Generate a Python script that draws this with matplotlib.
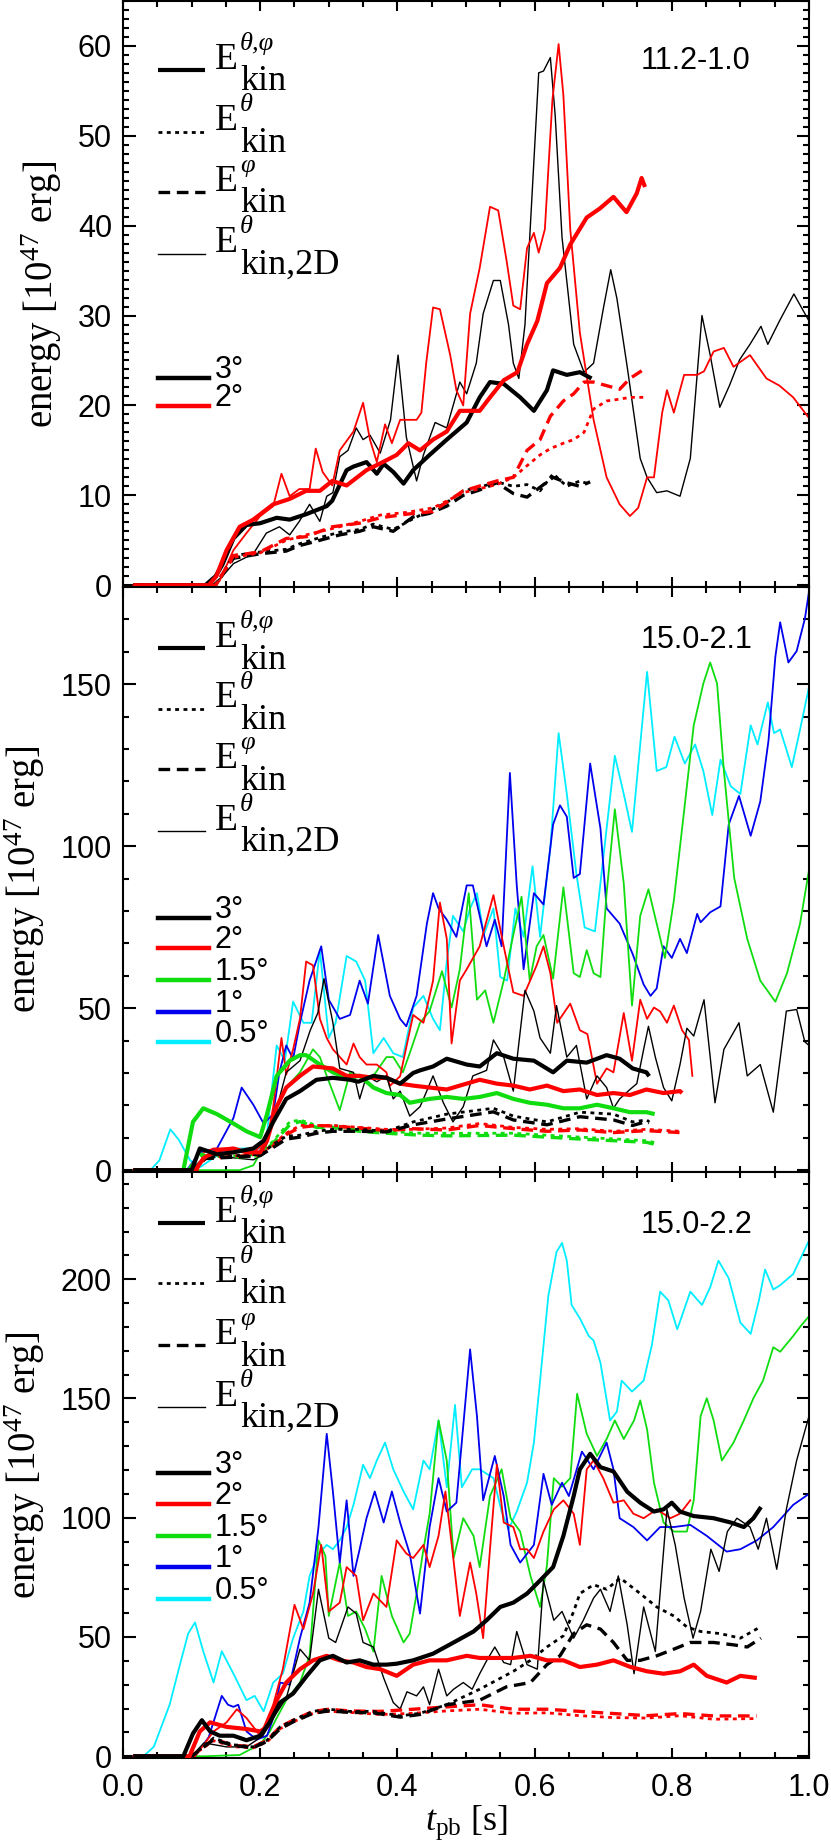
import matplotlib
matplotlib.use("Agg")
import matplotlib.pyplot as plt
from matplotlib.ticker import MultipleLocator, FormatStrFormatter

plt.rcParams['font.family'] = ['Liberation Sans', 'DejaVu Sans']
plt.rcParams['mathtext.fontset'] = 'custom'
plt.rcParams['mathtext.rm'] = 'Liberation Serif'
plt.rcParams['mathtext.it'] = 'Liberation Serif:italic'

# ---------------- data: (t_pb [s], energy [1e47 erg]) ----------------
# panel 1: 11.2-1.0
p1_tot_3 = [(0.015,0),(0.12,0),(0.135,1.0),(0.145,2.3),(0.161,5.2),(0.18,6.7),(0.2,6.9),(0.224,7.5),(0.243,7.3),(0.267,7.9),(0.297,8.8),(0.305,9.4),(0.326,12.8),(0.336,13.2),(0.355,13.7),(0.37,12.4),(0.38,13.5),(0.394,12.6),(0.409,11.3),(0.423,12.8),(0.447,14.5),(0.472,16.2),(0.501,18.1),(0.52,20.9),(0.535,22.6),(0.555,22.4),(0.579,20.9),(0.599,19.4),(0.618,21.7),(0.627,23.9),(0.647,23.4),(0.666,23.7),(0.683,23.0)]
p1_tot_2 = [(0.015,0),(0.125,0),(0.136,1.0),(0.151,3.9),(0.17,6.5),(0.19,7.3),(0.219,9.0),(0.243,9.6),(0.267,10.5),(0.287,10.5),(0.305,11.6),(0.326,11.1),(0.355,12.8),(0.384,13.9),(0.399,14.5),(0.416,15.8),(0.433,15.0),(0.452,16.2),(0.472,17.1),(0.491,19.4),(0.52,19.4),(0.535,20.9),(0.555,22.8),(0.575,23.7),(0.589,26.8),(0.604,29.4),(0.618,33.6),(0.637,35.3),(0.652,37.9),(0.676,40.9),(0.695,41.9),(0.715,43.2),(0.734,41.5),(0.749,43.6),(0.756,45.3),(0.761,44.3)]
p1_th_3 = [(0.015,0),(0.135,0),(0.161,3.3),(0.2,3.7),(0.238,4.0),(0.257,4.6),(0.287,5.3),(0.316,5.9),(0.345,6.2),(0.365,6.8),(0.394,6.2),(0.423,7.4),(0.447,8.3),(0.472,9.2),(0.496,10.5),(0.52,10.9),(0.545,11.5),(0.569,11.0),(0.589,11.2),(0.608,10.5),(0.627,12.4),(0.647,11.0),(0.666,11.6),(0.681,11.2)]
p1_ph_3 = [(0.015,0),(0.135,0),(0.161,3.0),(0.2,3.5),(0.238,3.8),(0.257,4.4),(0.287,5.0),(0.316,5.6),(0.345,6.0),(0.365,6.5),(0.394,6.0),(0.423,7.6),(0.447,8.0),(0.472,8.8),(0.496,10.0),(0.52,10.6),(0.545,11.4),(0.569,10.2),(0.589,9.8),(0.608,10.9),(0.627,12.0),(0.647,11.4),(0.666,11.0),(0.681,11.5)]
p1_th_2 = [(0.015,0),(0.135,0),(0.161,3.1),(0.2,3.6),(0.238,5.0),(0.267,5.6),(0.305,6.3),(0.345,7.1),(0.375,7.8),(0.413,8.1),(0.452,8.6),(0.496,10.3),(0.545,11.2),(0.569,12.0),(0.589,13.3),(0.608,14.5),(0.623,15.2),(0.642,15.8),(0.657,16.2),(0.672,17.0),(0.686,19.6),(0.705,20.5),(0.724,20.7),(0.739,20.9),(0.761,20.9)]
p1_ph_2 = [(0.015,0),(0.135,0),(0.161,3.3),(0.2,3.7),(0.238,5.2),(0.267,5.4),(0.305,6.5),(0.345,6.9),(0.375,7.5),(0.413,7.9),(0.452,8.2),(0.496,10.5),(0.545,11.6),(0.569,12.0),(0.589,15.0),(0.608,16.2),(0.623,18.8),(0.642,20.5),(0.657,21.3),(0.672,22.6),(0.686,22.6),(0.705,22.2),(0.724,21.8),(0.739,23.0),(0.761,24.1)]
p1_2d_3 = [(0.015,0),(0.13,0),(0.145,1.0),(0.161,2.4),(0.19,3.5),(0.209,5.8),(0.228,6.5),(0.243,5.6),(0.257,7.1),(0.272,9.0),(0.287,7.1),(0.297,9.9),(0.306,10.3),(0.316,14.3),(0.328,15.0),(0.34,17.5),(0.35,16.2),(0.36,16.7),(0.375,14.7),(0.39,18.4),(0.401,25.6),(0.413,16.5),(0.428,11.6),(0.438,14.5),(0.455,18.1),(0.472,17.5),(0.491,22.6),(0.501,21.3),(0.515,24.7),(0.525,30.2),(0.54,33.9),(0.55,33.9),(0.562,29.0),(0.569,24.7),(0.577,23.0),(0.586,29.0),(0.599,47.2),(0.606,57.0),(0.613,57.2),(0.623,58.7),(0.63,52.3),(0.64,38.7),(0.657,26.8),(0.672,23.7),(0.686,24.7),(0.701,31.1),(0.711,35.1),(0.72,31.9),(0.735,24.3),(0.754,14.1),(0.764,12.0),(0.778,10.3),(0.793,10.5),(0.812,9.9),(0.827,14.1),(0.844,30.0),(0.856,25.6),(0.87,19.8),(0.884,22.2),(0.899,25.1),(0.914,26.8),(0.93,28.8),(0.94,26.8),(0.957,29.4),(0.978,32.4),(1.0,29.4)]
p1_2d_2 = [(0.015,0),(0.135,0),(0.141,0.5),(0.161,3.9),(0.18,5.8),(0.2,7.7),(0.219,8.8),(0.231,12.4),(0.243,9.9),(0.257,10.7),(0.272,10.7),(0.281,15.2),(0.291,12.6),(0.305,11.1),(0.316,15.0),(0.336,17.1),(0.35,20.3),(0.36,16.2),(0.37,13.7),(0.382,17.9),(0.392,15.8),(0.404,18.4),(0.411,18.4),(0.428,18.4),(0.435,19.2),(0.442,24.7),(0.452,30.9),(0.462,30.7),(0.477,25.6),(0.486,21.7),(0.496,20.0),(0.506,30.2),(0.52,35.3),(0.535,42.1),(0.547,41.7),(0.559,36.2),(0.569,31.1),(0.579,30.7),(0.589,37.5),(0.599,39.2),(0.606,37.0),(0.615,39.6),(0.626,54.0),(0.635,60.2),(0.642,54.5),(0.652,39.6),(0.666,28.1),(0.686,18.4),(0.705,12.0),(0.724,9.0),(0.739,7.7),(0.751,8.6),(0.764,12.0),(0.774,12.0),(0.786,19.2),(0.793,21.7),(0.803,19.2),(0.818,23.4),(0.837,23.4),(0.847,23.8),(0.861,26.0),(0.876,26.4),(0.89,24.3),(0.914,25.6),(0.938,23.0),(0.957,22.2),(0.977,20.9),(1.0,18.6)]

# panel 2: 15.0-2.1
p2_tot_3 = [(0.015,0),(0.1,0),(0.112,6.7),(0.137,4.9),(0.161,5.5),(0.19,6.7),(0.205,9.1),(0.219,14.9),(0.238,22.0),(0.258,24.4),(0.282,27.9),(0.306,28.5),(0.331,27.9),(0.343,27.3),(0.365,29.1),(0.384,28.5),(0.404,26.7),(0.423,30.0),(0.433,30.8),(0.452,32.0),(0.472,34.4),(0.501,32.6),(0.52,32.0),(0.545,36.1),(0.569,34.4),(0.599,33.8),(0.627,30.2),(0.647,33.8),(0.676,33.2),(0.705,35.5),(0.724,34.4),(0.743,31.4),(0.763,30.2),(0.767,29.0)]
p2_tot_2 = [(0.015,0),(0.105,0),(0.118,3.8),(0.137,6.1),(0.161,6.7),(0.18,5.5),(0.2,5.5),(0.21,9.1),(0.224,19.6),(0.238,25.5),(0.258,29.1),(0.277,32.0),(0.306,31.4),(0.326,29.1),(0.345,29.1),(0.365,28.5),(0.384,28.5),(0.404,26.7),(0.423,26.1),(0.447,25.5),(0.472,24.9),(0.491,26.1),(0.52,27.9),(0.545,26.7),(0.569,26.1),(0.593,24.9),(0.618,26.1),(0.642,24.4),(0.666,24.9),(0.691,23.2),(0.715,23.8),(0.739,23.2),(0.763,24.9),(0.788,23.8),(0.812,24.4),(0.815,23.8)]
p2_tot_15 = [(0.015,0),(0.088,0),(0.102,14.9),(0.117,19.1),(0.137,17.3),(0.161,14.4),(0.18,12.0),(0.2,10.2),(0.21,17.3),(0.224,29.1),(0.243,33.8),(0.258,35.5),(0.267,35.5),(0.287,32.6),(0.306,30.2),(0.326,28.5),(0.345,29.1),(0.365,25.5),(0.384,23.8),(0.404,23.2),(0.418,20.8),(0.447,22.0),(0.472,22.6),(0.496,22.0),(0.52,22.6),(0.545,23.8),(0.569,22.0),(0.593,20.8),(0.618,20.2),(0.642,19.1),(0.666,19.1),(0.691,20.2),(0.715,19.1),(0.739,17.9),(0.763,17.9),(0.775,17.3)]
p2_th_3 = [(0.015,0),(0.1,0),(0.12,4.0),(0.161,4.4),(0.2,4.9),(0.219,7.9),(0.238,10.5),(0.258,10.8),(0.282,12.0),(0.306,12.6),(0.345,12.6),(0.384,12.0),(0.423,14.9),(0.472,17.3),(0.54,19.1),(0.569,16.7),(0.618,14.9),(0.666,17.9),(0.715,17.3),(0.743,14.9),(0.763,15.5),(0.767,15.0)]
p2_ph_3 = [(0.015,0),(0.1,0),(0.12,3.6),(0.161,4.0),(0.2,4.5),(0.219,7.0),(0.238,9.6),(0.258,10.2),(0.282,11.4),(0.306,12.0),(0.345,12.0),(0.384,11.8),(0.423,14.0),(0.472,15.8),(0.54,18.0),(0.569,15.5),(0.618,14.0),(0.666,16.5),(0.715,15.5),(0.743,13.8),(0.763,15.0),(0.767,14.6)]
p2_th_2 = [(0.015,0),(0.105,0),(0.12,4.0),(0.161,4.4),(0.2,4.9),(0.219,8.0),(0.238,11.4),(0.258,13.8),(0.282,13.8),(0.306,13.8),(0.345,13.2),(0.384,12.6),(0.423,12.6),(0.472,13.0),(0.52,14.4),(0.569,13.2),(0.618,12.6),(0.666,12.8),(0.715,12.0),(0.763,12.6),(0.812,12.0),(0.815,12.0)]
p2_ph_2 = [(0.015,0),(0.105,0),(0.12,3.6),(0.161,4.2),(0.2,4.7),(0.219,7.5),(0.238,11.0),(0.258,13.2),(0.282,13.8),(0.306,13.6),(0.345,13.0),(0.384,12.2),(0.423,12.8),(0.472,12.4),(0.52,13.8),(0.569,12.8),(0.618,12.0),(0.666,12.4),(0.715,11.6),(0.763,12.2),(0.812,11.6),(0.815,11.8)]
p2_th_15 = [(0.015,0),(0.095,0),(0.112,5.0),(0.161,4.4),(0.2,4.9),(0.219,9.0),(0.243,14.9),(0.258,15.5),(0.282,13.8),(0.306,13.8),(0.345,12.6),(0.384,12.0),(0.433,11.4),(0.472,11.4),(0.569,11.4),(0.666,10.2),(0.763,9.1),(0.775,8.5)]
p2_ph_15 = [(0.015,0),(0.095,0),(0.112,4.6),(0.161,4.0),(0.2,4.5),(0.219,8.4),(0.243,14.0),(0.258,15.0),(0.282,13.2),(0.306,13.2),(0.345,12.0),(0.384,11.4),(0.433,10.8),(0.472,10.6),(0.569,10.8),(0.666,9.6),(0.763,8.6),(0.775,8.0)]
p2_2d_3 = [(0.015,0),(0.104,0),(0.118,3.2),(0.137,4.9),(0.161,3.8),(0.19,3.2),(0.205,4.9),(0.219,14.9),(0.238,30.2),(0.258,33.8),(0.273,43.2),(0.284,48.5),(0.293,59.1),(0.306,45.5),(0.316,31.4),(0.336,30.2),(0.345,22.0),(0.355,29.1),(0.37,27.3),(0.384,29.1),(0.394,22.0),(0.404,24.4),(0.418,16.7),(0.433,19.6),(0.438,22.0),(0.452,29.1),(0.467,20.8),(0.481,14.9),(0.496,19.6),(0.51,29.1),(0.53,30.8),(0.54,40.2),(0.555,34.9),(0.569,24.4),(0.586,55.5),(0.599,49.1),(0.608,40.8),(0.623,36.1),(0.632,50.8),(0.647,34.9),(0.661,38.5),(0.676,22.0),(0.691,29.1),(0.705,25.5),(0.715,19.1),(0.724,22.0),(0.739,24.9),(0.749,26.7),(0.759,37.3),(0.766,44.4),(0.776,34.9),(0.788,25.5),(0.8,21.4),(0.812,32.6),(0.822,43.8),(0.832,41.4),(0.847,52.6),(0.856,34.9),(0.863,20.8),(0.876,37.3),(0.898,45.5),(0.91,29.1),(0.929,32.6),(0.948,17.9),(0.967,49.1),(0.982,49.6),(0.994,39.6),(1.0,38.5)]
p2_2d_2 = [(0.015,0),(0.109,0),(0.118,5.5),(0.132,6.7),(0.161,6.7),(0.19,5.5),(0.21,9.1),(0.219,19.6),(0.231,40.8),(0.238,29.5),(0.248,37.3),(0.258,46.7),(0.267,64.4),(0.277,63.2),(0.287,46.7),(0.297,40.8),(0.306,37.3),(0.326,32.6),(0.336,39.1),(0.345,34.9),(0.355,32.6),(0.37,32.6),(0.384,30.2),(0.389,26.0),(0.404,29.0),(0.423,47.9),(0.438,45.5),(0.452,58.5),(0.462,82.6),(0.472,71.4),(0.479,39.1),(0.491,58.5),(0.501,62.0),(0.52,69.1),(0.54,84.9),(0.555,69.1),(0.569,54.9),(0.584,53.8),(0.603,63.2),(0.613,69.1),(0.623,60.8),(0.633,45.5),(0.652,51.4),(0.666,43.2),(0.677,42.0),(0.691,26.7),(0.705,31.4),(0.715,30.2),(0.73,48.5),(0.742,33.8),(0.754,52.6),(0.764,46.7),(0.774,50.2),(0.783,49.0),(0.793,45.5),(0.803,50.8),(0.815,43.2),(0.825,40.2),(0.83,29.1)]
p2_2d_15 = [(0.015,0),(0.17,0),(0.19,1.5),(0.21,9.1),(0.224,19.6),(0.238,25.5),(0.258,30.2),(0.277,37.3),(0.287,34.9),(0.297,29.1),(0.316,18.5),(0.331,30.2),(0.345,29.1),(0.365,29.1),(0.384,34.9),(0.394,34.9),(0.408,30.2),(0.418,36.1),(0.433,45.5),(0.447,49.1),(0.465,61.4),(0.479,50.2),(0.491,62.0),(0.504,85.5),(0.516,52.6),(0.528,55.5),(0.54,45.5),(0.555,58.5),(0.569,72.6),(0.581,84.4),(0.593,58.5),(0.603,69.1),(0.613,72.6),(0.627,59.1),(0.642,87.3),(0.657,60.8),(0.666,59.6),(0.676,67.9),(0.686,60.8),(0.696,59.6),(0.705,85.5),(0.717,111.4),(0.73,88.5),(0.742,50.8),(0.754,78.5),(0.766,86.7),(0.778,76.1),(0.79,65.5),(0.803,83.2),(0.817,109.1),(0.832,137.3),(0.846,150.2),(0.856,156.7),(0.866,150.2),(0.876,123.2),(0.891,90.2),(0.91,71.4),(0.929,58.5),(0.951,52.0),(0.968,60.8),(0.987,76.1),(1.0,92.6)]
p2_2d_1 = [(0.015,0),(0.093,0),(0.112,5.5),(0.137,6.7),(0.161,16.1),(0.173,25.5),(0.19,20.2),(0.205,14.4),(0.219,17.3),(0.228,30.2),(0.238,38.5),(0.248,34.4),(0.258,45.5),(0.272,58.5),(0.289,69.1),(0.3,52.6),(0.316,46.7),(0.331,47.9),(0.345,58.5),(0.357,51.4),(0.372,72.6),(0.389,53.8),(0.404,46.7),(0.413,44.4),(0.428,53.8),(0.443,76.1),(0.452,85.5),(0.46,80.8),(0.472,77.3),(0.486,72.0),(0.501,87.9),(0.51,87.9),(0.52,78.5),(0.53,69.1),(0.542,77.3),(0.552,69.1),(0.564,122.6),(0.574,87.9),(0.584,62.0),(0.599,85.5),(0.613,82.0),(0.627,106.7),(0.637,112.6),(0.647,109.1),(0.657,90.2),(0.666,91.4),(0.681,125.5),(0.696,105.5),(0.705,80.8),(0.724,76.1),(0.743,66.7),(0.759,57.3),(0.769,53.8),(0.778,56.1),(0.788,69.1),(0.8,65.5),(0.812,71.4),(0.822,67.0),(0.837,79.1),(0.842,76.5),(0.856,79.6),(0.871,81.4),(0.883,106.7),(0.898,115.5),(0.915,103.2),(0.929,113.8),(0.941,132.6),(0.951,158.5),(0.958,169.1),(0.97,156.7),(0.982,160.2),(0.994,170.2),(1.0,178.5)]
p2_2d_05 = [(0.015,0),(0.04,0),(0.053,3.0),(0.069,12.6),(0.081,9.5),(0.098,3.0),(0.113,1.0),(0.137,4.5),(0.161,6.7),(0.2,6.7),(0.21,11.4),(0.224,38.5),(0.236,33.8),(0.248,52.0),(0.263,45.5),(0.275,45.5),(0.287,67.9),(0.3,40.8),(0.31,45.5),(0.326,66.1),(0.34,64.4),(0.353,58.5),(0.365,36.1),(0.38,40.8),(0.394,36.1),(0.408,34.9),(0.423,50.2),(0.438,53.8),(0.452,46.7),(0.462,43.2),(0.472,64.4),(0.481,78.5),(0.496,73.7),(0.506,80.8),(0.516,85.5),(0.526,72.6),(0.54,80.8),(0.55,59.6),(0.56,58.5),(0.572,80.8),(0.584,72.0),(0.597,93.8),(0.608,72.0),(0.623,99.6),(0.635,134.9),(0.647,116.1),(0.661,91.4),(0.673,74.9),(0.688,73.7),(0.7,96.1),(0.717,127.9),(0.73,116.1),(0.742,104.4),(0.754,131.4),(0.764,153.8),(0.778,123.2),(0.792,124.4),(0.804,133.8),(0.819,125.5),(0.834,131.4),(0.846,123.2),(0.859,109.6),(0.871,126.7),(0.886,118.5),(0.9,116.1),(0.915,137.3),(0.925,131.4),(0.94,144.4),(0.949,134.9),(0.958,136.0),(0.975,124.4),(0.987,136.0),(1.0,149.1)]

# panel 3: 15.0-2.2
p3_tot_3 = [(0.015,0),(0.088,0),(0.102,9.5),(0.115,15.1),(0.127,10.4),(0.141,8.6),(0.161,8.6),(0.18,6.7),(0.2,8.6),(0.214,14.2),(0.229,22.5),(0.248,26.3),(0.268,33.7),(0.287,40.2),(0.306,42.1),(0.326,39.3),(0.345,40.2),(0.365,38.4),(0.384,38.4),(0.399,38.8),(0.423,40.2),(0.452,43.0),(0.482,47.7),(0.511,52.3),(0.53,57.0),(0.55,62.6),(0.569,64.4),(0.589,68.2),(0.608,73.7),(0.627,79.3),(0.642,92.4),(0.657,109.1),(0.666,120.3),(0.681,126.8),(0.696,121.2),(0.715,119.4),(0.735,110.9),(0.754,106.3),(0.774,102.6),(0.788,103.5),(0.8,106.3),(0.812,102.6),(0.832,100.7),(0.861,99.8),(0.886,98.0),(0.905,96.1),(0.919,99.8),(0.93,104.5)]
p3_tot_2 = [(0.015,0),(0.097,0),(0.112,10.4),(0.127,14.2),(0.151,12.3),(0.18,11.4),(0.2,10.4),(0.21,12.3),(0.224,23.5),(0.238,30.9),(0.258,36.5),(0.277,40.2),(0.297,42.1),(0.316,40.2),(0.336,39.3),(0.355,37.4),(0.375,36.5),(0.399,33.7),(0.423,38.4),(0.447,40.2),(0.472,40.2),(0.501,42.1),(0.52,41.2),(0.545,41.2),(0.569,41.2),(0.594,42.1),(0.618,40.2),(0.642,40.2),(0.666,37.4),(0.691,38.4),(0.715,40.2),(0.74,37.4),(0.764,35.6),(0.788,34.6),(0.812,35.6),(0.832,38.4),(0.851,33.7),(0.88,30.9),(0.9,33.7),(0.924,32.8)]
p3_th_3 = [(0.015,0),(0.1,0),(0.132,7.6),(0.161,4.8),(0.19,3.9),(0.21,6.7),(0.229,12.3),(0.248,15.1),(0.277,18.8),(0.3,19.7),(0.33,18.8),(0.365,18.8),(0.404,16.9),(0.433,18.0),(0.472,21.6),(0.52,28.1),(0.569,35.6),(0.594,40.2),(0.618,45.8),(0.642,50.5),(0.657,60.7),(0.666,68.2),(0.686,71.9),(0.705,70.0),(0.725,74.7),(0.754,68.2),(0.778,62.6),(0.803,58.8),(0.822,54.2),(0.842,52.3),(0.871,51.4),(0.9,49.5),(0.929,54.2)]
p3_ph_3 = [(0.015,0),(0.1,0),(0.132,7.0),(0.161,4.4),(0.19,3.6),(0.21,6.2),(0.229,11.5),(0.248,14.4),(0.277,18.0),(0.3,19.0),(0.33,18.4),(0.365,18.2),(0.404,16.4),(0.433,17.5),(0.472,21.6),(0.52,23.5),(0.559,29.1),(0.594,30.9),(0.618,38.4),(0.637,42.1),(0.657,51.4),(0.676,55.1),(0.696,53.3),(0.715,47.7),(0.735,40.2),(0.754,40.2),(0.778,42.1),(0.803,44.9),(0.827,47.7),(0.861,47.7),(0.89,46.7),(0.91,45.8),(0.93,49.5)]
p3_th_2 = [(0.015,0),(0.1,0),(0.132,6.5),(0.161,4.0),(0.19,3.5),(0.21,6.0),(0.229,11.5),(0.248,14.4),(0.277,18.0),(0.3,18.8),(0.33,18.4),(0.375,17.5),(0.423,18.0),(0.472,19.0),(0.52,19.7),(0.569,18.0),(0.618,18.2),(0.666,17.0),(0.715,16.2),(0.764,16.0),(0.812,17.0),(0.861,15.5),(0.924,15.8)]
p3_ph_2 = [(0.015,0),(0.1,0),(0.132,7.2),(0.161,4.6),(0.19,4.0),(0.21,6.6),(0.229,12.3),(0.248,15.1),(0.277,18.8),(0.3,19.7),(0.33,19.0),(0.375,18.8),(0.423,19.7),(0.472,20.7),(0.52,21.6),(0.569,19.7),(0.618,19.7),(0.666,18.8),(0.715,17.9),(0.764,17.0),(0.812,17.9),(0.861,16.9),(0.924,16.9)]
p3_2d_3 = [(0.015,0),(0.1,0),(0.118,5.6),(0.151,3.9),(0.18,3.9),(0.204,8.6),(0.219,16.0),(0.238,24.4),(0.258,44.9),(0.272,40.2),(0.285,70.0),(0.3,49.5),(0.31,47.7),(0.328,62.6),(0.34,59.8),(0.35,47.7),(0.365,45.8),(0.38,32.8),(0.394,22.5),(0.404,19.8),(0.414,27.0),(0.428,25.3),(0.438,29.1),(0.447,21.6),(0.46,36.5),(0.472,25.3),(0.482,28.1),(0.496,30.9),(0.509,28.1),(0.52,34.6),(0.53,40.0),(0.542,45.8),(0.555,39.3),(0.565,38.4),(0.574,52.3),(0.589,38.4),(0.604,36.5),(0.613,73.7),(0.628,57.0),(0.64,60.7),(0.657,49.5),(0.671,57.0),(0.686,66.3),(0.696,70.0),(0.71,60.7),(0.722,75.6),(0.735,55.1),(0.745,34.6),(0.759,62.6),(0.776,43.9),(0.793,103.5),(0.805,88.6),(0.818,66.3),(0.831,49.5),(0.842,60.7),(0.857,86.8),(0.869,77.5),(0.881,94.2),(0.895,99.8),(0.914,96.1),(0.926,86.8),(0.938,99.8),(0.953,78.4),(0.967,103.5),(0.982,124.0),(1.0,142.6)]
p3_2d_2 = [(0.015,0),(0.105,0),(0.132,10.4),(0.151,14.2),(0.166,19.7),(0.18,16.0),(0.2,8.6),(0.219,21.6),(0.233,36.5),(0.25,63.5),(0.263,53.3),(0.277,68.2),(0.289,88.6),(0.3,60.7),(0.316,64.4),(0.326,79.3),(0.34,75.6),(0.35,57.0),(0.365,68.2),(0.384,62.6),(0.399,90.5),(0.413,85.0),(0.423,83.1),(0.438,88.6),(0.447,79.3),(0.46,92.4),(0.47,111.0),(0.48,86.8),(0.491,58.8),(0.506,81.2),(0.515,68.2),(0.525,49.5),(0.535,86.8),(0.545,122.2),(0.555,98.0),(0.569,96.1),(0.579,86.8),(0.589,86.8),(0.599,83.1),(0.613,94.2),(0.628,103.5),(0.642,107.3),(0.657,101.7),(0.666,88.6),(0.676,120.3),(0.686,124.0),(0.7,116.6),(0.715,106.3),(0.73,107.3),(0.744,101.7),(0.759,99.8),(0.778,103.5),(0.798,99.8),(0.812,101.7),(0.827,107.3)]
p3_2d_15 = [(0.015,0),(0.12,0),(0.17,0.5),(0.185,2.8),(0.2,4.9),(0.214,10.4),(0.224,16.0),(0.238,23.5),(0.258,30.9),(0.272,42.1),(0.285,90.5),(0.295,84.0),(0.3,58.8),(0.316,81.2),(0.328,58.8),(0.34,60.7),(0.353,53.3),(0.365,43.9),(0.377,75.6),(0.392,58.8),(0.409,47.7),(0.418,51.4),(0.428,68.2),(0.438,86.8),(0.447,101.7),(0.46,140.8),(0.472,124.0),(0.482,83.1),(0.496,99.8),(0.511,92.4),(0.52,79.3),(0.535,109.1),(0.552,120.3),(0.565,99.8),(0.579,94.2),(0.594,75.6),(0.608,62.6),(0.618,80.0),(0.628,116.6),(0.64,113.0),(0.652,116.6),(0.662,152.0),(0.676,135.2),(0.691,125.9),(0.705,133.0),(0.717,140.8),(0.73,133.0),(0.745,140.8),(0.754,149.2),(0.764,137.0),(0.774,114.7),(0.788,98.0),(0.803,94.2),(0.822,94.2),(0.832,107.3),(0.842,142.6),(0.851,150.1),(0.861,140.8),(0.873,124.0),(0.89,131.5),(0.905,140.8),(0.919,150.1),(0.933,157.5),(0.948,171.5),(0.958,169.6),(0.977,176.2),(0.987,180.0),(1.0,184.5)]
p3_2d_1 = [(0.015,0),(0.105,0),(0.125,8.0),(0.144,25.3),(0.153,21.6),(0.161,20.7),(0.168,21.6),(0.18,10.4),(0.195,7.0),(0.21,8.6),(0.219,16.0),(0.229,30.9),(0.243,30.0),(0.258,49.5),(0.272,64.4),(0.285,96.1),(0.297,135.2),(0.306,111.0),(0.316,81.2),(0.326,107.3),(0.336,75.6),(0.345,86.8),(0.355,99.8),(0.367,111.0),(0.38,98.0),(0.392,111.0),(0.404,98.0),(0.418,84.9),(0.433,59.8),(0.447,96.1),(0.46,116.6),(0.472,102.6),(0.486,106.3),(0.506,170.6),(0.516,142.6),(0.525,107.3),(0.542,125.9),(0.555,109.1),(0.565,88.6),(0.579,81.2),(0.599,88.6),(0.613,118.4),(0.625,105.4),(0.64,114.7),(0.65,109.1),(0.669,127.7),(0.686,120.3),(0.705,131.5),(0.715,120.3),(0.724,99.8),(0.744,96.1),(0.764,90.5),(0.783,96.1),(0.803,96.1),(0.827,97.0),(0.851,92.4),(0.88,85.8),(0.9,86.8),(0.924,90.5),(0.948,96.1),(0.977,105.4),(1.0,110.0)]
p3_2d_05 = [(0.015,0),(0.03,0),(0.045,4.0),(0.068,21.6),(0.083,38.4),(0.095,51.4),(0.105,56.1),(0.117,44.0),(0.132,30.9),(0.144,44.0),(0.161,34.6),(0.18,23.5),(0.192,25.3),(0.205,18.8),(0.219,30.9),(0.233,34.6),(0.248,49.5),(0.263,60.7),(0.272,75.6),(0.285,84.9),(0.297,88.6),(0.306,86.8),(0.316,90.5),(0.326,96.0),(0.336,105.4),(0.35,122.2),(0.36,116.6),(0.37,124.0),(0.382,131.5),(0.394,120.3),(0.409,111.0),(0.423,103.5),(0.438,124.0),(0.447,120.3),(0.46,140.8),(0.472,112.8),(0.484,147.3),(0.494,112.8),(0.509,120.3),(0.52,120.3),(0.54,116.6),(0.552,102.6),(0.562,95.2),(0.574,102.6),(0.589,114.7),(0.599,131.5),(0.608,157.5),(0.62,192.9),(0.632,211.5),(0.64,215.2),(0.647,207.8),(0.654,189.2),(0.666,183.6),(0.679,176.2),(0.686,174.3),(0.696,165.0),(0.71,140.8),(0.72,144.5),(0.727,157.5),(0.742,152.9),(0.759,157.5),(0.771,172.4),(0.783,194.8),(0.795,191.1),(0.808,179.0),(0.827,194.8),(0.844,189.2),(0.856,196.6),(0.868,207.8),(0.883,200.4),(0.9,181.8),(0.915,177.1),(0.927,191.1),(0.936,204.1),(0.948,195.7),(0.958,197.5),(0.977,202.2),(1.0,216.2)]

# ---------------- styles ----------------
RED = '#ff0000'
GREEN = '#10dd10'
BLUE = '#0000ee'
CYAN = '#00eeff'
THICK = dict(lw=3.0, ls='-', solid_capstyle='butt')
DOT = dict(lw=2.0, ls=(0, (1.4, 1.6)))
DASH = dict(lw=2.4, ls=(0, (3.5, 2.0)))
THIN = dict(lw=1.0, ls='-')
THIN_C = dict(lw=1.3, ls='-')


def curve(ax, pts, color, style, z):
    t = [p[0] for p in pts]
    e = [p[1] for p in pts]
    ax.plot(t, e, color=color, zorder=z, **style)


def legend(ax, y_e, y_deg, degs):
    entries = [(THICK, '\u03b8,\u03c6', 'kin'), (DOT, '\u03b8', 'kin'),
               (DASH, '\u03c6', 'kin'), (THIN, '\u03b8', 'kin,2D')]
    x0 = 0.134
    for (st, sup, sub), yf in zip(entries, y_e):
        ax.plot([0.051, 0.120], [yf, yf], transform=ax.transAxes, color='k', **st)
        ax.annotate('E', (x0, yf), xycoords='axes fraction', xytext=(0, 1),
                    textcoords='offset points', fontsize=27,
                    family='Liberation Serif', va='baseline', ha='left')
        ax.annotate(sub, (x0, yf), xycoords='axes fraction', xytext=(18, -14.5),
                    textcoords='offset points', fontsize=26, family='Liberation Serif',
                    va='baseline', ha='left')
        ax.annotate(sup, (x0, yf), xycoords='axes fraction', xytext=(18, 14.5),
                    textcoords='offset points', fontsize=19, family='Liberation Serif',
                    style='italic', va='baseline', ha='left')
    for (lab, col), yf in zip(degs, y_deg):
        ax.plot([0.051, 0.126], [yf, yf], transform=ax.transAxes, color=col, lw=3.2)
        ax.text(0.134, yf, lab + '\u00b0', transform=ax.transAxes, fontsize=22,
                va='baseline', ha='left')


fig = plt.figure(figsize=(8.31, 18.47), dpi=100)
L, W = 0.1480, 0.8255
ax1 = fig.add_axes([L, 0.6822, W, 0.3173])
ax2 = fig.add_axes([L, 0.3655, W, 0.3167])
ax3 = fig.add_axes([L, 0.0482, W, 0.3173])

# panel 1
curve(ax1, p1_2d_3, 'k', THIN, 2)
curve(ax1, p1_2d_2, RED, THIN_C, 2)
curve(ax1, p1_th_3, 'k', DOT, 3)
curve(ax1, p1_ph_3, 'k', DASH, 3)
curve(ax1, p1_th_2, RED, DOT, 3)
curve(ax1, p1_ph_2, RED, DASH, 3)
curve(ax1, p1_tot_3, 'k', THICK, 4)
curve(ax1, p1_tot_2, RED, THICK, 4)

# panel 2
for pts, col in [(p2_2d_05, CYAN), (p2_2d_1, BLUE), (p2_2d_15, GREEN), (p2_2d_2, RED)]:
    curve(ax2, pts, col, THIN_C, 2)
curve(ax2, p2_2d_3, 'k', THIN, 2)
for th, ph, col in [(p2_th_15, p2_ph_15, GREEN), (p2_th_2, p2_ph_2, RED), (p2_th_3, p2_ph_3, 'k')]:
    curve(ax2, th, col, DOT, 3)
    curve(ax2, ph, col, DASH, 3)
curve(ax2, p2_tot_15, GREEN, THICK, 4)
curve(ax2, p2_tot_2, RED, THICK, 4)
curve(ax2, p2_tot_3, 'k', THICK, 4)

# panel 3
for pts, col in [(p3_2d_05, CYAN), (p3_2d_15, GREEN), (p3_2d_1, BLUE), (p3_2d_2, RED)]:
    curve(ax3, pts, col, THIN_C, 2)
curve(ax3, p3_2d_3, 'k', THIN, 2)
for th, ph, col in [(p3_th_2, p3_ph_2, RED), (p3_th_3, p3_ph_3, 'k')]:
    curve(ax3, th, col, DOT, 3)
    curve(ax3, ph, col, DASH, 3)
curve(ax3, p3_tot_2, RED, THICK, 4)
curve(ax3, p3_tot_3, 'k', THICK, 4)

degs_all = [('3', 'k'), ('2', RED), ('1.5', GREEN), ('1', BLUE), ('0.5', CYAN)]
legend(ax1, [0.882, 0.777, 0.674, 0.569], [0.357, 0.308], degs_all[:2])
legend(ax2, [0.895, 0.792, 0.688, 0.583], [0.434, 0.382, 0.328, 0.274, 0.222], degs_all)
legend(ax3, [0.913, 0.810, 0.704, 0.599], [0.486, 0.433, 0.379, 0.326, 0.272], degs_all)

for ax, ymax, ymaj, ymin, title, ty in [(ax1, 65, 10, 1, '11.2-1.0', 0.897),
                                        (ax2, 180, 50, 10, '15.0-2.1', 0.91),
                                        (ax3, 245, 50, 10, '15.0-2.2', 0.909)]:
    ax.set_xlim(0, 1.0)
    ax.set_ylim(-0.003 * ymax, ymax)
    ax.xaxis.set_major_locator(MultipleLocator(0.2))
    ax.xaxis.set_minor_locator(MultipleLocator(0.05))
    ax.yaxis.set_major_locator(MultipleLocator(ymaj))
    ax.yaxis.set_minor_locator(MultipleLocator(ymin))
    ax.xaxis.set_major_formatter(FormatStrFormatter('%.1f'))
    ax.tick_params(which='both', direction='in', top=True, right=True, width=1.5,
                   labelsize=22)
    ax.tick_params(axis='x', which='major', length=7.5, pad=11)
    ax.tick_params(axis='y', which='major', length=9, pad=8)
    ax.tick_params(which='minor', length=4.2)
    for sp in ax.spines.values():
        sp.set_linewidth(1.5)
    ax.set_ylabel(r'energy [10$^{47}$ erg]', family='Liberation Serif', fontsize=28,
                  labelpad=10)
    ax.text(0.754, ty, title, transform=ax.transAxes, fontsize=22, va='center', ha='left')

ax1.tick_params(labelbottom=False)
ax2.tick_params(labelbottom=False)
ax3.set_xlabel(r'$t_{\rm pb}$ [s]', family='Liberation Serif', fontsize=26, labelpad=0)

fig.savefig('out.png', dpi=100)
